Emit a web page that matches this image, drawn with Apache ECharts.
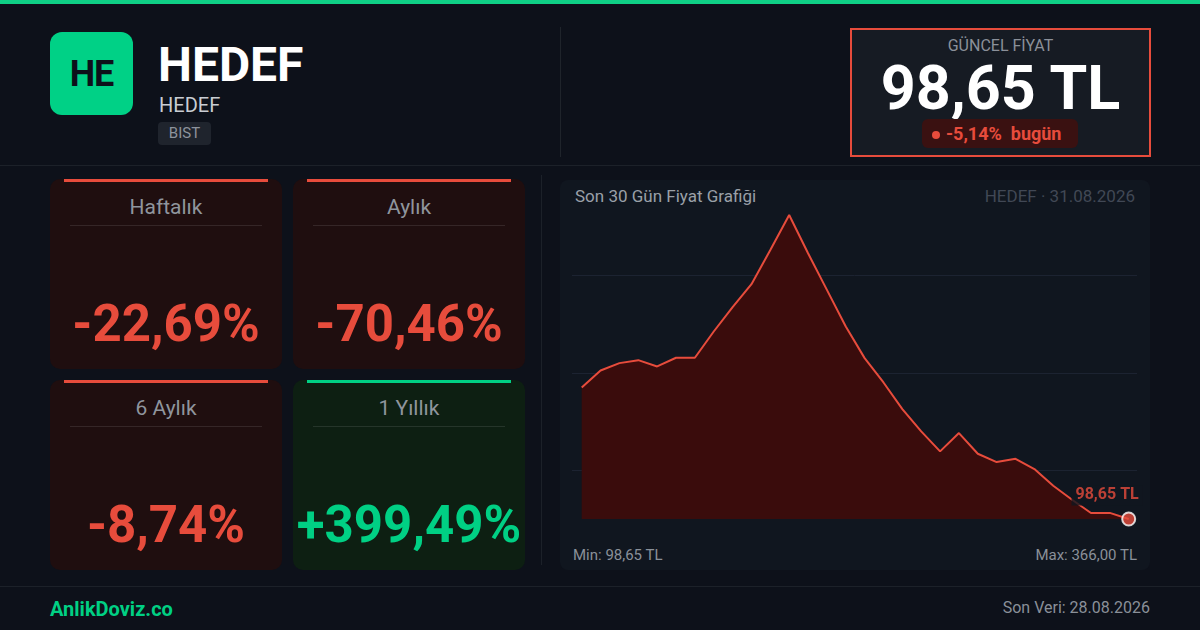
<!DOCTYPE html>
<html><head><meta charset="utf-8">
<script src="https://cdn.jsdelivr.net/npm/echarts@6/dist/echarts.min.js"></script>
<style>
*{margin:0;padding:0;box-sizing:border-box}
body{width:1200px;height:630px;background:#0d111a;font-family:Roboto,'Noto Sans',sans-serif;position:relative;overflow:hidden}
.a{position:absolute;white-space:nowrap}
.card{position:absolute;width:232px;height:190px;border-radius:10px}
.card .bar{position:absolute;left:14px;right:14px;top:0;height:3px}
.card .t{position:absolute;left:0;right:0;top:18px;text-align:center;font-size:21px;line-height:21px;color:#8f959d}
.card .d{position:absolute;left:20px;right:20px;top:46px;height:1px;background:rgba(255,255,255,0.1)}
.card .v{position:absolute;left:0;right:0;top:119px;text-align:center;font-size:51px;line-height:51px;font-weight:700}
</style></head><body>
<div class="a" style="left:0;top:0;width:1200px;height:4px;background:#0fcf86"></div>
<div class="a" style="left:50px;top:32px;width:83px;height:83px;border-radius:12px;background:#00d186;color:#0d111a;font-weight:700;font-size:36px;display:flex;align-items:center;justify-content:center;letter-spacing:-1px">HE</div>
<div class="a" style="left:158px;top:41px;font-size:48px;line-height:48px;font-weight:700;color:#fff">HEDEF</div>
<div class="a" style="left:159px;top:95px;font-size:20px;line-height:20px;color:#c9cdd3">HEDEF</div>
<div class="a" style="left:158px;top:122px;width:53px;height:23px;border-radius:4px;background:#1f242d;color:#8d939c;font-size:15px;line-height:23px;text-align:center">BIST</div>
<div class="a" style="left:560px;top:27px;width:1px;height:130px;background:#1f242b"></div>
<div class="a" style="left:0;top:165px;width:1200px;height:1px;background:#1c2129"></div>

<div class="a" style="left:850px;top:28px;width:301px;height:129px;border:2px solid #e74c3c;background:#161b23"></div>
<div class="a" style="left:850px;top:38px;width:301px;text-align:center;font-size:16px;line-height:16px;color:#8b9099">GÜNCEL FİYAT</div>
<div class="a" id="price" style="left:850px;top:58px;width:301px;text-align:center;font-size:61px;line-height:61px;font-weight:700;color:#fff"></div>
<div class="a" style="left:922px;top:119px;width:156px;height:29px;border-radius:6px;background:#3a1111;display:flex;align-items:center;padding-left:10px">
  <span style="display:inline-block;width:8px;height:8px;border-radius:50%;background:#e74c3c;margin-right:6px;margin-top:2px"></span>
  <span id="daily" style="font-size:18px;font-weight:700;color:#e74c3c;white-space:pre"></span>
</div>

<div id="cards"></div>
<div class="a" style="left:541px;top:175px;width:1px;height:390px;background:#1c2129"></div>

<div class="a" style="left:560px;top:180px;width:590px;height:390px;border-radius:8px;background:#10161f"></div>
<div class="a" style="left:575px;top:188px;font-size:17px;line-height:17px;color:#9aa0a8">Son 30 Gün Fiyat Grafiği</div>
<div class="a" style="right:65px;top:188px;font-size:17px;line-height:17px;color:#414855">HEDEF · 31.08.2026</div>
<div class="a" id="minl" style="left:573px;top:548px;font-size:15px;line-height:15px;color:#8a9099"></div>
<div class="a" id="maxl" style="right:63px;top:548px;font-size:15px;line-height:15px;color:#8a9099"></div>

<div class="a" style="left:0;top:586px;width:1200px;height:1px;background:#1c2129"></div>
<div class="a" style="left:50px;top:599px;font-size:20px;line-height:20px;font-weight:700;color:#00d084">AnlikDoviz.co</div>
<div class="a" style="right:50px;top:600px;font-size:16px;line-height:16px;color:#8a9099">Son Veri: 28.08.2026</div>

<div id="chart" class="a" style="left:0;top:0;width:1200px;height:630px;pointer-events:none"></div>

<script>
const days = ['02.08','03.08','04.08','05.08','06.08','07.08','08.08','09.08','10.08','11.08',
  '12.08','13.08','14.08','15.08','16.08','17.08','18.08','19.08','20.08','21.08',
  '22.08','23.08','24.08','25.08','26.08','27.08','28.08','29.08','30.08','31.08'];
const prices = [214.3,229.2,235.7,238.3,232.8,240.4,240.4,263.5,284.9,305.1,
  335.2,366.0,332.3,300.1,267.9,240.1,218.7,195.3,175.7,158.1,
  174.2,156.0,148.7,151.6,142.6,127.9,115.6,103.9,104.0,98.65];
const periods = ['Haftalık','Aylık','6 Aylık','1 Yıllık'];
const changes = [-22.69,-70.46,-8.74,399.49];
const dailyChange = -5.14;

const fmt = v => v.toFixed(2).replace('.', ',');
const last = prices[prices.length-1];
const pMin = Math.min(...prices), pMax = Math.max(...prices);
document.getElementById('price').textContent = fmt(last) + ' TL';
document.getElementById('daily').textContent = (dailyChange>0?'+':'') + fmt(dailyChange) + '%  bugün';
document.getElementById('minl').textContent = 'Min: ' + fmt(pMin) + ' TL';
document.getElementById('maxl').textContent = 'Max: ' + fmt(pMax) + ' TL';

const pos = [[50,179],[293,179],[50,380],[293,380]];
let html = '';
periods.forEach((p,i)=>{
  const up = changes[i] >= 0;
  const col = up ? '#00d084' : '#e74c3c';
  const bg = up ? '#0d1f12' : '#1f0e0f';
  html += `<div class="card" style="left:${pos[i][0]}px;top:${pos[i][1]}px;background:${bg}">
    <div class="bar" style="background:${col}"></div>
    <div class="t">${p}</div><div class="d"></div>
    <div class="v" style="color:${col}">${up?'+':''}${fmt(changes[i])}%</div></div>`;
});
document.getElementById('cards').innerHTML = html;

const Y_MIN = 55.56, Y_MAX = 398.48, Y_STEP = (398.48-55.56)/4;
const gc = '#1c2331';
const chart = echarts.init(document.getElementById('chart'), null, {renderer:'canvas'});
chart.setOption({
  animation:false,
  backgroundColor:'transparent',
  grid:[{left:581.7,right:71.3,top:178,bottom:62},{left:572,right:63,top:178,bottom:62}],
  xAxis:[
    {type:'category',data:days,boundaryGap:false,show:false,gridIndex:0},
    {type:'category',data:days,boundaryGap:false,show:false,gridIndex:1}
  ],
  yAxis:[
    {type:'value',min:Y_MIN,max:Y_MAX,interval:Y_STEP,show:false,gridIndex:0},
    {type:'value',min:Y_MIN,max:Y_MAX,interval:Y_STEP,gridIndex:1,
     axisLine:{show:false},axisTick:{show:false},axisLabel:{show:false},
     splitLine:{show:true,lineStyle:{color:['transparent',gc,gc,gc,'transparent'],width:1}}}
  ],
  series:[
    {type:'line',data:prices,xAxisIndex:0,yAxisIndex:0,symbol:'none',
     lineStyle:{color:'#e74c3c',width:2},
     areaStyle:{color:'#3a0c0c',opacity:1,origin:pMin},z:2},
    {type:'scatter',xAxisIndex:0,yAxisIndex:0,data:[[days[days.length-1],last]],
     symbol:'circle',symbolSize:13,
     itemStyle:{color:'#e74c3c',borderColor:'#ffffff',borderWidth:2},
     label:{show:true,position:'top',align:'right',offset:[14,0],distance:6,
       formatter:()=>fmt(last)+' TL',color:'#e74c3c',fontWeight:'bold',fontSize:16,
       fontFamily:'Roboto',backgroundColor:'#10161f',padding:[2,4]},z:5}
  ]
});
</script>
</body></html>
